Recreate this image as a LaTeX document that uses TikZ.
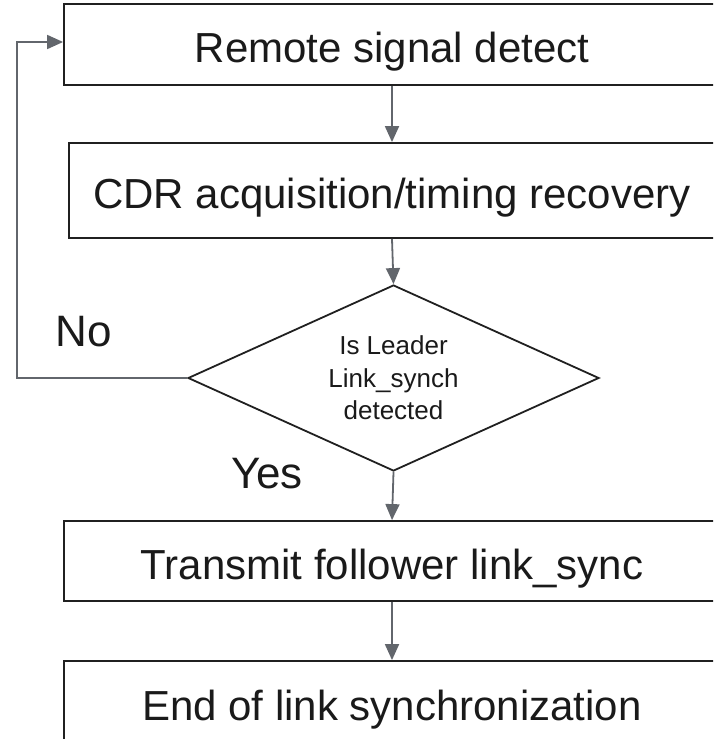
\documentclass[tikz,border=0pt]{standalone}
\usepackage{fontspec}
\setmainfont{Liberation Sans}
\usetikzlibrary{shapes.geometric,arrows.meta}
\definecolor{boxline}{HTML}{202020}
\definecolor{connline}{HTML}{62666C}
\definecolor{txt}{HTML}{1A1A1A}
\tikzset{
  stepbox/.style={draw=boxline, line width=1.8pt, rectangle, inner sep=0pt, text=txt,
    text height=36pt, text depth=0pt, font=\fontsize{42}{50}\selectfont},
  decbox/.style={draw=boxline, line width=1.8pt, diamond, shape aspect=2.21, inner sep=0pt, text=txt,
    align=center, font=\fontsize{26}{32.5}\selectfont},
  conn/.style={draw=connline, line width=1.8pt, -{Triangle[width=14pt,length=16pt]}},
  lbl/.style={text=txt, inner sep=0pt, font=\fontsize{44}{50}\selectfont}
}
\begin{document}
\begin{tikzpicture}[x=1pt,y=-1pt]
\useasboundingbox (0,0) rectangle (713,739);
\clip (0,0) rectangle (713,739);
\node[stepbox, minimum width=656pt, minimum height=81pt] (b1) at (392,44.5) {Remote signal detect};
\node[stepbox, minimum width=646pt, minimum height=95pt] (b2) at (392,190.5) {CDR acquisition/timing recovery};
\node[decbox, minimum width=411pt, minimum height=186pt] (d) at (393.5,378) {Is Leader\\Link\_synch\\detected};
\node[stepbox, minimum width=656pt, minimum height=80pt] (b3) at (392,561) {Transmit follower link\_sync};
\node[stepbox, minimum width=656pt, minimum height=83pt] (b4) at (392,702.5) {End of link synchronization};
\node[lbl] (no) at (84,332) {No};
\node[lbl] (yes) at (267,474) {Yes};
\coordinate (loop) at (17,378);
\draw[conn] (b1.south) -- (b2.north);
\draw[conn] (b2.south) -- (d.north);
\draw[conn] (d.south) -- (b3.north);
\draw[conn] (b3.south) -- (b4.north);
\draw[conn] (d.west) -- (loop) |- ([yshift=2.5pt]b1.west);
\end{tikzpicture}
\end{document}
